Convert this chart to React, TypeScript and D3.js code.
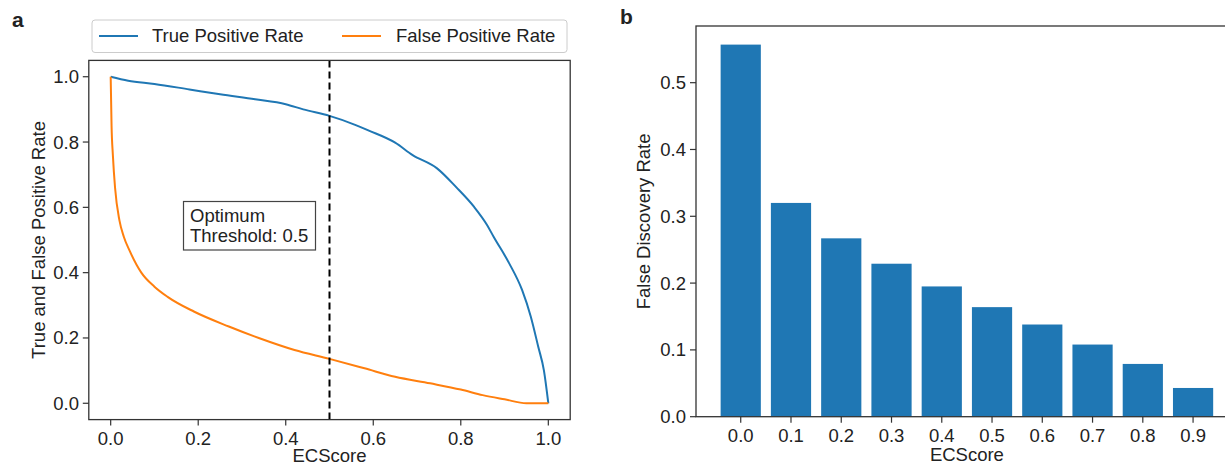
import React from 'react';
import * as d3 from 'd3';

// panel a: rates vs ECScore threshold
const tprX = [0, 0.04, 0.1, 0.18, 0.25, 0.33, 0.4, 0.44, 0.5, 0.56, 0.59, 0.65, 0.69, 0.745, 0.79, 0.83, 0.86, 0.875, 0.91, 0.94, 0.96, 0.977, 0.99, 1.0];
const tprY = [1.0, 0.988, 0.978, 0.961, 0.946, 0.931, 0.916, 0.9, 0.88, 0.852, 0.835, 0.798, 0.76, 0.72, 0.661, 0.602, 0.546, 0.51, 0.43, 0.347, 0.265, 0.173, 0.1, 0.0];
const fprX = [0, 0.002, 0.005, 0.01, 0.02, 0.03, 0.044, 0.07, 0.1, 0.13, 0.19, 0.27, 0.34, 0.42, 0.5, 0.58, 0.65, 0.73, 0.8, 0.85, 0.9, 0.95, 1.0];
const fprY = [1.0, 0.85, 0.76, 0.66, 0.56, 0.51, 0.465, 0.4, 0.357, 0.326, 0.281, 0.235, 0.199, 0.163, 0.136, 0.107, 0.081, 0.061, 0.042, 0.025, 0.012, 0.0, 0.0];
const rateTicks = [0, 0.2, 0.4, 0.6, 0.8, 1.0];
const threshold = 0.5;

// panel b: false discovery rate per threshold
const categories = ['0.0', '0.1', '0.2', '0.3', '0.4', '0.5', '0.6', '0.7', '0.8', '0.9'];
const fdr = [0.557, 0.32, 0.267, 0.229, 0.195, 0.164, 0.138, 0.108, 0.079, 0.043];
const fdrTicks = [0, 0.1, 0.2, 0.3, 0.4, 0.5];

const BLUE = '#1f77b4';
const ORANGE = '#ff7f0e';
const AX = '#333';
const FONT = '"Liberation Sans", Arial, sans-serif';
const FS = 18.5;

const fmt = d3.format('.1f');

const LeftPanel = () => {
  const x = d3.scaleLinear().domain([-0.05, 1.05]).range([88.8, 570.2]);
  const y = d3.scaleLinear().domain([-0.05, 1.05]).range([419.6, 60.4]);
  const [x0, x1] = x.range();
  const [yb, yt] = y.range();

  const line = d3.line<number[]>().x((d) => x(d[0])).y((d) => y(d[1])).curve(d3.curveMonotoneX);
  const tpr = line(tprX.map((v, i) => [v, tprY[i]]));
  const fpr = line(fprX.map((v, i) => [v, fprY[i]]));

  return (
    <g>
      <text x={12} y={27} fontSize={21} fontWeight="bold">a</text>

      <path d={tpr || ''} fill="none" stroke={BLUE} strokeWidth={2} />
      <path d={fpr || ''} fill="none" stroke={ORANGE} strokeWidth={2} />

      <line x1={x(threshold)} x2={x(threshold)} y1={yt} y2={yb} stroke="#000" strokeWidth={2} strokeDasharray="7,4" />

      {/* annotation */}
      <rect x={183.5} y={201.5} width={132} height={48.5} fill="#fff" stroke="#444" strokeWidth={1.2} />
      <text x={190} y={221.5} fontSize={FS}>Optimum</text>
      <text x={190} y={242} fontSize={FS}>Threshold: 0.5</text>

      <rect x={x0} y={yt} width={x1 - x0} height={yb - yt} fill="none" stroke={AX} strokeWidth={1.3} />

      {rateTicks.map((t) => (
        <g key={'x' + t}>
          <line x1={x(t)} x2={x(t)} y1={yb} y2={yb + 6} stroke={AX} strokeWidth={1.2} />
          <text x={x(t)} y={445} textAnchor="middle" fontSize={FS}>{fmt(t)}</text>
        </g>
      ))}
      {rateTicks.map((t) => (
        <g key={'y' + t}>
          <line x1={x0 - 6} x2={x0} y1={y(t)} y2={y(t)} stroke={AX} strokeWidth={1.2} />
          <text x={79} y={y(t)} dy="0.35em" textAnchor="end" fontSize={FS}>{fmt(t)}</text>
        </g>
      ))}

      <text x={(x0 + x1) / 2} y={462} textAnchor="middle" fontSize={FS}>ECScore</text>
      <text transform={`translate(45,${(yt + yb) / 2}) rotate(-90)`} textAnchor="middle" fontSize={FS}>
        True and False Positive Rate
      </text>

      {/* legend */}
      <rect x={92} y={20} width={475} height={32.5} rx={3} fill="#fff" stroke="#ccc" strokeWidth={1} />
      <line x1={99} x2={138} y1={36} y2={36} stroke={BLUE} strokeWidth={2} />
      <text x={152} y={36} dy="0.35em" fontSize={FS}>True Positive Rate</text>
      <line x1={342} x2={381} y1={36} y2={36} stroke={ORANGE} strokeWidth={2} />
      <text x={396} y={36} dy="0.35em" fontSize={FS}>False Positive Rate</text>
    </g>
  );
};

const RightPanel = () => {
  const x = d3.scaleLinear().domain([-0.89, 9.89]).range([696, 1237.8]);
  const y = d3.scaleLinear().domain([0, (d3.max(fdr) as number) * 1.05]).range([416.7, 26]);
  const [x0, x1] = x.range();
  const [yb, yt] = y.range();
  const bw = x(0.8) - x(0);

  return (
    <g>
      <text x={620} y={24} fontSize={21} fontWeight="bold">b</text>

      {fdr.map((v, i) => (
        <rect key={i} x={x(i) - bw / 2} y={y(v)} width={bw} height={yb - y(v)} fill={BLUE} />
      ))}

      <rect x={x0} y={yt} width={x1 - x0} height={yb - yt} fill="none" stroke={AX} strokeWidth={1.3} />

      {categories.map((c, i) => (
        <g key={c}>
          <line x1={x(i)} x2={x(i)} y1={yb} y2={yb + 6} stroke={AX} strokeWidth={1.2} />
          <text x={x(i)} y={442} textAnchor="middle" fontSize={FS}>{c}</text>
        </g>
      ))}
      {fdrTicks.map((t) => (
        <g key={t}>
          <line x1={x0 - 6} x2={x0} y1={y(t)} y2={y(t)} stroke={AX} strokeWidth={1.2} />
          <text x={686} y={y(t)} dy="0.35em" textAnchor="end" fontSize={FS}>{fmt(t)}</text>
        </g>
      ))}

      <text x={(x0 + x1) / 2} y={461} textAnchor="middle" fontSize={FS}>ECScore</text>
      <text transform={`translate(650,${(yt + yb) / 2}) rotate(-90)`} textAnchor="middle" fontSize={FS}>
        False Discovery Rate
      </text>
    </g>
  );
};

export default function App() {
  return (
    <svg
      width={1225}
      height={466}
      style={{ position: 'absolute', left: 0, top: 0, background: '#fff' }}
      fontFamily={FONT}
      fill="#222"
    >
      <LeftPanel />
      <RightPanel />
    </svg>
  );
}
